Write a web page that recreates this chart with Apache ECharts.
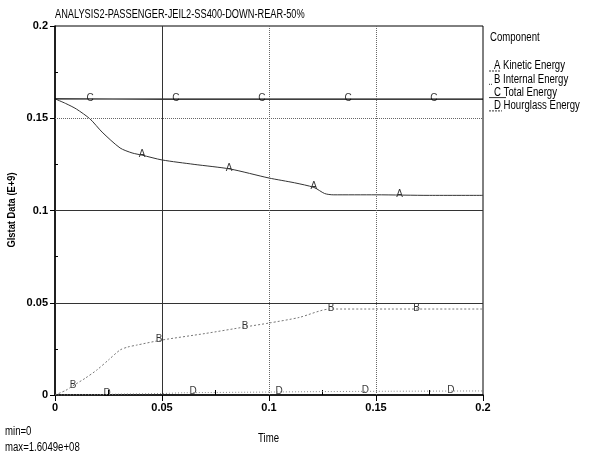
<!DOCTYPE html>
<html>
<head>
    <meta charset="UTF-8">
    <title>Glstat</title>
    <script src="https://cdn.jsdelivr.net/npm/echarts@6/dist/echarts.min.js"></script>
    <style>
        body{ margin:0; background:#fff; }
        #container{ width:595px; height:455px; }
    </style>
</head>
<body>
<div id="container"></div>
<script>
    var FONT = "'Liberation Sans', Arial, sans-serif";

    // data (values in E+9)
    var kineticT  = [0, 0.005, 0.01, 0.0164, 0.022, 0.0304, 0.036, 0.0407, 0.05, 0.065, 0.0818, 0.1, 0.112, 0.121, 0.126, 0.13, 0.15, 0.175, 0.2];
    var kineticV  = [0.1605, 0.158, 0.155, 0.1496, 0.1425, 0.1339, 0.1312, 0.1300, 0.1274, 0.1250, 0.1225, 0.1176, 0.1150, 0.1125, 0.1092, 0.1085, 0.1085, 0.1082, 0.1082];
    var internalT = [0, 0.005, 0.0084, 0.014, 0.0196, 0.025, 0.0304, 0.034, 0.038, 0.05, 0.07, 0.0888, 0.1, 0.114, 0.1285, 0.15, 0.2];
    var internalV = [0, 0.0025, 0.005, 0.009, 0.0136, 0.019, 0.0244, 0.026, 0.027, 0.0298, 0.0333, 0.0369, 0.039, 0.042, 0.0466, 0.0466, 0.0466];
    var totalT    = [0, 0.05, 0.1, 0.15, 0.2];
    var totalV    = [0.1605, 0.1604, 0.1604, 0.1604, 0.1604];
    var hourT     = [0, 0.02, 0.03, 0.05, 0.06, 0.1, 0.12, 0.15, 0.2];
    var hourV     = [0, 0.0002, 0.0005, 0.0008, 0.0012, 0.0016, 0.0018, 0.002, 0.0022];

    // where the curve letters sit
    var labelA = [0.0407, 0.0813, 0.121, 0.161];
    var labelB = [0.0084, 0.0486, 0.0888, 0.129, 0.169];
    var labelC = [0.0164, 0.0565, 0.0967, 0.137, 0.177];
    var labelD = [0.0243, 0.0645, 0.1047, 0.145, 0.185];

    var components = ['Kinetic Energy', 'Internal Energy', 'Total Energy', 'Hourglass Energy'];
    var letters = ['A', 'B', 'C', 'D'];

    function pairs(t, v){
        return t.map(function(x, i){ return [x, v[i]]; });
    }
    function valueAt(t, v, x){
        for (var i = 1; i < t.length; i++) {
            if (x <= t[i]) {
                var f = (x - t[i-1]) / (t[i] - t[i-1]);
                return v[i-1] + f * (v[i] - v[i-1]);
            }
        }
        return v[v.length - 1];
    }

    var curves = [
        {t: kineticT, v: kineticV, at: labelA, color: '#333', type: 'solid', width: 1},
        {t: internalT, v: internalV, at: labelB, color: '#777', type: [2, 2], width: 1},
        {t: totalT, v: totalV, at: labelC, color: '#000', type: 'solid', width: 1.2},
        {t: hourT, v: hourV, at: labelD, color: '#888', type: [1, 2], width: 1}
    ];

    var series = [];
    curves.forEach(function(c, k){
        series.push({
            type: 'line', data: pairs(c.t, c.v), showSymbol: false, silent: true, smooth: 0.25,
            lineStyle: {color: c.color, type: c.type, width: c.width}
        });
        series.push({
            type: 'scatter', symbolSize: 0, silent: true,
            data: c.at.map(function(x){ return [x, valueAt(c.t, c.v, x)]; }),
            label: {
                show: true, position: 'top', distance: -4, formatter: letters[k],
                fontFamily: FONT, fontSize: 10, color: '#000'
            }
        });
    });

    // grid lines
    series.push({
        type: 'line', data: [], silent: true,
        markLine: {
            symbol: 'none', silent: true, label: {show: false},
            data: [
                {yAxis: 0.05, lineStyle: {color: '#333', type: 'solid', width: 1}},
                {yAxis: 0.1, lineStyle: {color: '#333', type: 'solid', width: 1}},
                {yAxis: 0.15, lineStyle: {color: '#666', type: [1, 1], width: 1}},
                {xAxis: 0.05, lineStyle: {color: '#333', type: 'solid', width: 1}},
                {xAxis: 0.1, lineStyle: {color: '#666', type: [1, 1], width: 1}},
                {xAxis: 0.15, lineStyle: {color: '#666', type: [1, 1], width: 1}}
            ]
        }
    });

    // narrow text, like the original plotter font
    function narrowText(x, y, text, size, extra){
        var el = {
            type: 'text', x: x, y: y, scaleX: 0.8,
            style: {text: text, fontFamily: FONT, fontSize: size, fill: '#000', verticalAlign: 'top'}
        };
        for (var k in extra) el[k] = extra[k];
        return el;
    }

    var graphics = [
        narrowText(55, 9, 'ANALYSIS2-PASSENGER-JEIL2-SS400-DOWN-REAR-50%', 12, {scaleX: 0.77}),
        narrowText(490, 32, 'Component', 12),
        narrowText(5, 426, 'min=0', 12),
        narrowText(5, 442, 'max=1.6049e+08', 12),
        narrowText(258, 433, 'Time', 12),
        {
            type: 'text', x: 12, y: 210, rotation: Math.PI / 2, scaleX: 0.85,
            style: {text: 'Glstat Data (E+9)', fontFamily: FONT, fontSize: 11, fontWeight: 'bold',
                fill: '#000', align: 'center', verticalAlign: 'middle'}
        }
    ];
    var lineDash = [[2, 1], [1, 1], null, [2, 1]];
    var lineLen = [11, 4, 17, 13];
    components.forEach(function(name, i){
        var y = 60 + i * 13.3;
        graphics.push(narrowText(494, y, letters[i] + ' ' + name, 12));
        graphics.push({
            type: 'line', shape: {x1: 489, y1: y + 11, x2: 489 + lineLen[i], y2: y + 11},
            style: {stroke: '#333', lineWidth: 1, lineDash: lineDash[i]}
        });
    });

    var myChart = echarts.init(document.getElementById('container'));
    myChart.setOption({
        animation: false,
        grid: {left: 55, right: 112, top: 26, bottom: 60, show: true, borderColor: '#000', borderWidth: 1,
            outerBoundsMode: 'none'},
        xAxis: {
            type: 'value', min: 0, max: 0.2, interval: 0.05,
            axisLine: {lineStyle: {color: '#000', width: 1.5}},
            axisTick: {show: true, length: 6, lineStyle: {color: '#000'}},
            minorTick: {show: true, splitNumber: 2, length: -5, lineStyle: {color: '#000'}},
            splitLine: {show: false},
            axisLabel: {fontFamily: FONT, fontSize: 11, fontWeight: 'bold', color: '#000', margin: 7}
        },
        yAxis: {
            type: 'value', min: 0, max: 0.2, interval: 0.05,
            axisLine: {show: true, lineStyle: {color: '#000', width: 1.5}},
            axisTick: {show: true, length: 5, lineStyle: {color: '#000'}},
            minorTick: {show: true, splitNumber: 2, length: -3, lineStyle: {color: '#000'}},
            splitLine: {show: false},
            axisLabel: {fontFamily: FONT, fontSize: 11, fontWeight: 'bold', color: '#000', margin: 7}
        },
        graphic: graphics,
        series: series
    });
</script>
</body>
</html>
